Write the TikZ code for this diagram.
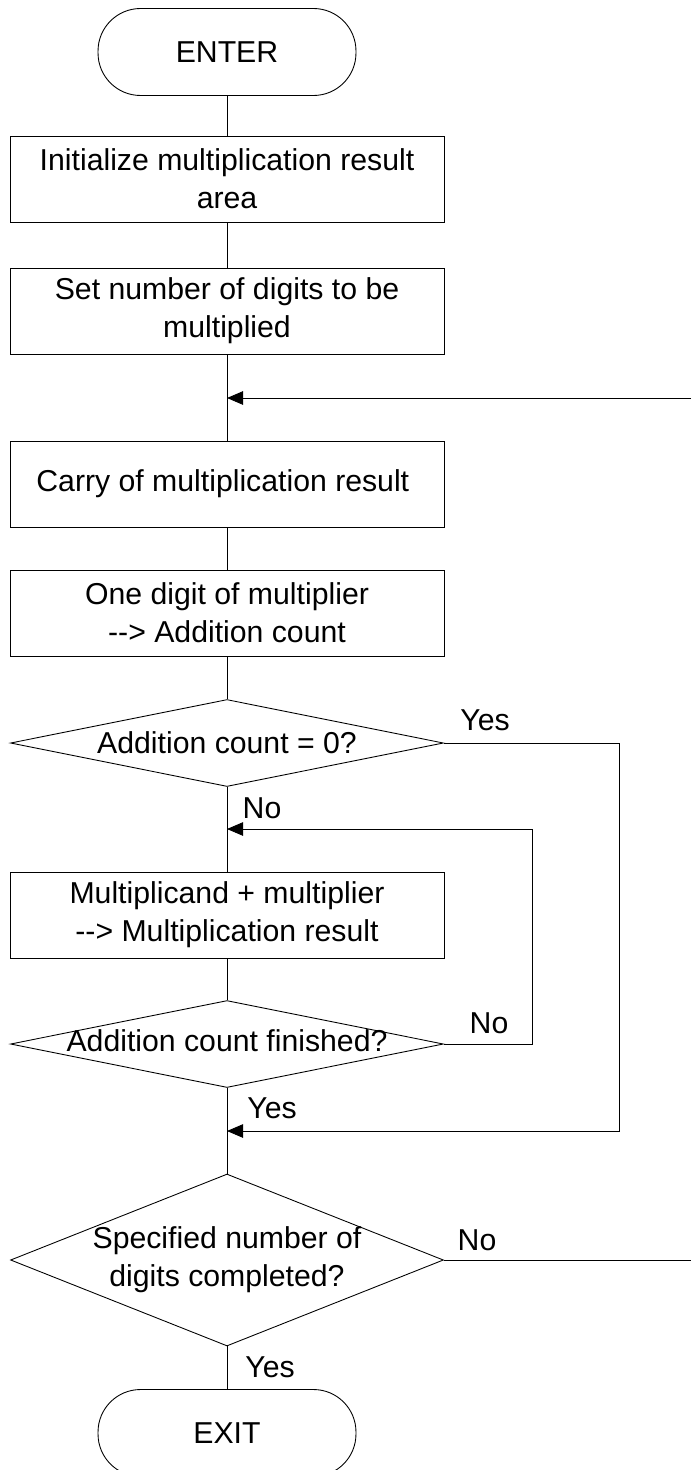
\documentclass[tikz,border=0pt]{standalone}
\usepackage{fontspec}
\setmainfont{Liberation Sans}
\usetikzlibrary{shapes.geometric,arrows.meta}

\begin{document}
\begin{tikzpicture}[x=0.02cm, y=-0.02cm, line width=0.5pt,
		every node/.style={font=\fontsize{17.2}{21.5}\selectfont},
		process/.style={rectangle, draw, minimum width=8.68cm, minimum height=1.72cm, align=center},
		terminal/.style={rectangle, draw, rounded corners=0.85cm, minimum width=5.16cm, minimum height=1.74cm},
		decision/.style={diamond, draw, inner sep=0pt, minimum width=8.66cm},
		arr/.style={-{Triangle[length=0.32cm, width=0.27cm]}}]
		\useasboundingbox (0, 0) rectangle (691, 1470);

		\node[terminal] (enter) at (227, 52) { ENTER };
		\node[process] (init) at (227, 179) { Initialize multiplication result\\area };
		\node[process] (setdigits) at (227, 311) { Set number of digits to be\\multiplied };
		\node[process] (carry) at (227, 484) { Carry of multiplication result };
		\node[process] (onedigit) at (227, 613) { One digit of multiplier\\ {-}{-}> Addition count };
		\node[decision, minimum height=1.74cm, label={center:Addition count = 0?}] (iszero) at (227, 743) {};
		\node[process] (add) at (227, 915) { Multiplicand + multiplier\\ {-}{-}> Multiplication result };
		\node[decision, minimum height=1.74cm, label={[yshift=2pt]center:Addition count finished?}] (finished) at (227, 1044) {};
		\node[decision, minimum height=3.44cm, label={[align=center]center:Specified number of\\digits completed?}] (completed) at (227, 1260) {};
		\node[terminal] (exit) at (227, 1433) { EXIT };

		\coordinate (back) at (691, 398);
		\coordinate (backin) at (227, 398);
		\coordinate (loopin) at (227, 829);
		\coordinate (skipin) at (227, 1131);
		\coordinate (out) at (691, 1260);

		\node (yeszero) at (485, 720) { Yes };
		\node (nozero) at (262, 808) { No };
		\node (nofinished) at (489, 1023) { No };
		\node (yesfinished) at (272, 1108) { Yes };
		\node (nocompleted) at (477, 1240) { No };
		\node (yescompleted) at (270, 1367) { Yes };

		\draw (enter) -- (init);
		\draw (init) -- (setdigits);
		\draw (setdigits) -- (carry);
		\draw[arr] (back) -- (backin);
		\draw (carry) -- (onedigit);
		\draw (onedigit) -- (iszero);
		\draw (iszero) -- (add);
		\draw[arr] (iszero.east) -- (619, 743) |- (skipin);
		\draw (add) -- (finished);
		\draw[arr] (finished.east) -- (532, 1044) |- (loopin);
		\draw (finished) -- (completed);
		\draw (completed.east) -- (out);
		\draw (completed) -- (exit);
	\end{tikzpicture}
\end{document}
